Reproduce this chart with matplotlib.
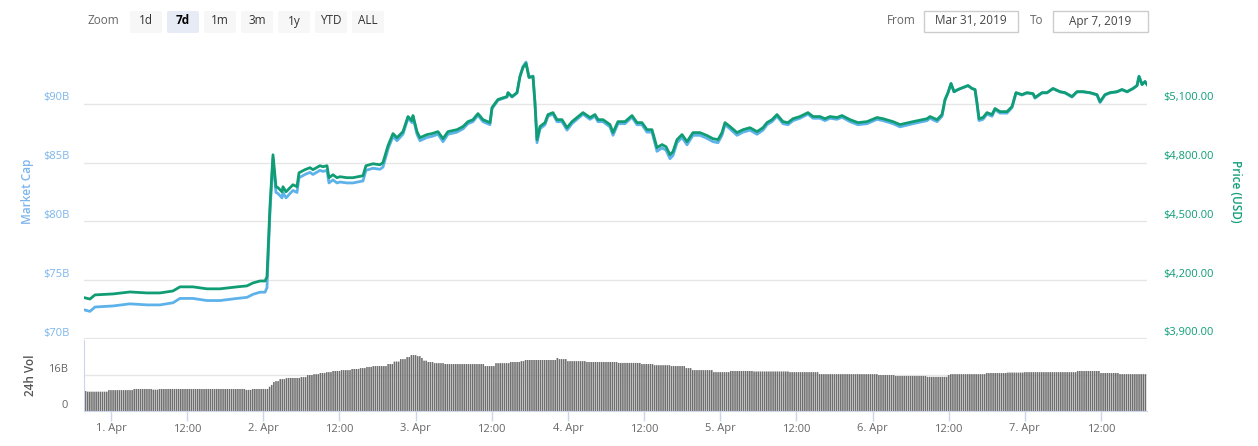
import numpy as np
import matplotlib
matplotlib.use("Agg")
import matplotlib.pyplot as plt
from matplotlib.patches import FancyBboxPatch, Rectangle
from matplotlib.transforms import offset_copy

plt.rcParams["font.family"] = ["Open Sans", "DejaVu Sans"]

# hours since 1 Apr 2019 00:00
hours = [-4.10, -3.31, -2.52, 0.32, 2.99, 5.67, 7.72, 9.77, 10.87, 12.92,
         15.13, 17.18, 19.86, 21.43, 22.38, 23.48, 24.27, 24.58, 25.05, 25.53,
         26.00, 26.32, 26.95, 27.10, 27.58, 28.21, 28.68, 29.31, 29.63, 30.57,
         31.36, 31.83, 32.93, 33.41, 34.04, 34.35, 34.98, 35.61, 36.09, 37.19,
         38.13, 39.71, 40.18, 41.29, 42.39, 42.86, 43.65, 44.44, 45.07, 46.01,
         46.80, 47.43, 47.59, 48.22, 48.69, 49.80, 50.58, 51.53, 52.32, 53.10,
         54.52, 55.47, 56.26, 57.04, 57.83, 58.62, 59.72, 60.04, 60.98, 62.40,
         62.56, 63.19, 63.98, 64.45, 64.92, 65.40, 65.87, 66.50, 66.81, 67.13,
         67.60, 68.39, 68.86, 69.65, 70.28, 71.07, 71.86, 72.64, 73.43, 74.38,
         75.48, 76.27, 76.74, 77.53, 78.63, 79.11, 79.89, 81.00, 82.10, 82.89,
         83.67, 84.46, 85.25, 86.04, 86.83, 87.46, 88.09, 88.56, 89.19, 89.98,
         90.77, 91.71, 92.81, 93.92, 94.86, 95.65, 96.28, 96.75, 97.54, 98.65,
         99.59, 100.69, 101.80, 102.74, 103.37, 104.16, 104.95, 105.89, 106.68, 107.47,
         108.57, 109.83, 110.62, 111.72, 112.51, 113.30, 114.40, 115.19, 116.45, 117.71,
         119.13, 120.71, 121.65, 123.23, 124.33, 126.38, 128.59, 129.06, 130.16, 130.95,
         131.42, 131.89, 132.37, 132.84, 133.47, 134.26, 135.05, 135.68, 136.15, 136.46,
         136.78, 137.41, 138.04, 138.83, 139.30, 140.09, 141.19, 141.98, 142.61, 143.55,
         144.34, 145.29, 145.60, 146.71, 147.49, 148.44, 149.54, 150.33, 151.43, 152.22,
         153.17, 154.27, 155.37, 155.85, 156.63, 157.42, 158.53, 159.31, 160.10, 161.04,
         161.68, 161.99, 162.47, 162.94, 163.26]

price_usd = [4110, 4104, 4125, 4130, 4140, 4135, 4135, 4145, 4166, 4166,
             4156, 4156, 4166, 4171, 4186, 4196, 4196, 4217, 4575, 4840,
             4677, 4672, 4651, 4677, 4651, 4672, 4687, 4677, 4748, 4764,
             4774, 4764, 4784, 4779, 4784, 4723, 4738, 4723, 4728, 4723,
             4723, 4733, 4784, 4794, 4789, 4800, 4886, 4948, 4927, 4958,
             5035, 5014, 5040, 4958, 4927, 4943, 4948, 4958, 4922, 4958,
             4968, 4984, 5009, 5019, 5050, 5019, 5004, 5081, 5122, 5137,
             5157, 5137, 5157, 5239, 5285, 5306, 5234, 5239, 5106, 4917,
             4984, 5004, 5045, 5055, 5019, 5019, 4978, 5009, 5030, 5055,
             5030, 5045, 5019, 5019, 4994, 4953, 5009, 5009, 5040, 5004,
             5004, 4968, 4968, 4876, 4892, 4881, 4840, 4856, 4917, 4943,
             4907, 4953, 4953, 4938, 4922, 4917, 4953, 5004, 4984, 4953,
             4968, 4978, 4958, 4978, 5004, 5019, 5045, 5009, 5004, 5024,
             5035, 5055, 5035, 5035, 5024, 5035, 5030, 5040, 5019, 5004,
             5009, 5030, 5024, 5009, 4994, 5009, 5024, 5035, 5019, 5045,
             5122, 5157, 5203, 5162, 5173, 5183, 5193, 5178, 5173, 5106,
             5024, 5030, 5055, 5045, 5076, 5060, 5060, 5086, 5157, 5147,
             5157, 5152, 5132, 5157, 5157, 5178, 5162, 5157, 5137, 5162,
             5162, 5157, 5147, 5111, 5147, 5157, 5162, 5173, 5162, 5178,
             5193, 5239, 5198, 5213, 5198]

market_cap_b = [72.46, 72.35, 72.72, 72.81, 72.99, 72.90, 72.90, 73.08, 73.45, 73.45,
                73.27, 73.27, 73.45, 73.54, 73.80, 73.98, 73.98, 74.35, 80.66, 85.33,
                82.46, 82.37, 82.00, 82.46, 82.00, 82.37, 82.63, 82.46, 83.71, 83.99,
                84.17, 83.99, 84.34, 84.25, 84.34, 83.27, 83.53, 83.27, 83.35, 83.27,
                83.27, 83.44, 84.34, 84.52, 84.43, 84.62, 86.14, 87.23, 86.86, 87.41,
                88.77, 88.40, 88.86, 87.41, 86.86, 87.14, 87.23, 87.41, 86.78, 87.41,
                87.59, 87.87, 88.31, 88.48, 89.03, 88.48, 88.22, 89.58, 90.30, 90.57,
                90.92, 90.57, 90.92, 92.36, 93.17, 93.55, 92.28, 92.36, 90.02, 86.69,
                87.87, 88.22, 88.94, 89.12, 88.48, 88.48, 87.76, 88.31, 88.68, 89.12,
                88.68, 88.94, 88.48, 88.48, 88.04, 87.32, 88.31, 88.31, 88.86, 88.22,
                88.22, 87.59, 87.59, 85.96, 86.25, 86.05, 85.33, 85.61, 86.69, 87.14,
                86.51, 87.32, 87.32, 87.06, 86.78, 86.69, 87.32, 88.22, 87.87, 87.32,
                87.59, 87.76, 87.41, 87.76, 88.22, 88.48, 88.94, 88.31, 88.22, 88.57,
                88.77, 89.12, 88.77, 88.77, 88.57, 88.77, 88.68, 88.86, 88.48, 88.22,
                88.31, 88.68, 88.57, 88.31, 88.04, 88.31, 88.57, 88.77, 88.48, 88.94,
                90.30, 90.92, 91.73, 91.01, 91.20, 91.38, 91.55, 91.29, 91.20, 90.02,
                88.57, 88.68, 89.12, 88.94, 89.49, 89.21, 89.21, 89.67, 90.92, 90.74,
                90.92, 90.83, 90.48, 90.92, 90.92, 91.29, 91.01, 90.92, 90.57, 91.01,
                91.01, 90.92, 90.74, 90.11, 90.74, 90.92, 91.01, 91.20, 91.01, 91.29,
                91.55, 92.36, 91.64, 91.91, 91.64]

# 24h volume (billions), one level per run of bars starting at the given hour
vol_change_hours = [-4.1, -3.8, -0.5, 3.5, 6.5, 7.6, 21.1, 22.2, 24.7, 25.1,
                    25.4, 26.0, 26.6, 27.6, 29.8, 30.7, 31.8, 32.9, 34.0, 35.0,
                    36.1, 37.7, 39.2, 40.3, 41.3, 43.5, 44.4, 45.5, 46.5, 47.3,
                    48.1, 48.7, 49.3, 50.0, 50.7, 52.6, 58.9, 60.4, 62.7, 64.5,
                    65.1, 70.1, 70.6, 71.7, 75.0, 79.9, 83.4, 85.4, 88.1, 90.5,
                    91.6, 94.9, 97.4, 101.2, 107.0, 111.4, 120.7, 123.4, 128.6, 131.9,
                    132.2, 138.0, 141.2, 143.9, 152.1, 155.8, 158.7]
vol_levels_b = [8.9, 8.6, 9.3, 9.8, 9.5, 9.8, 9.4, 9.8, 10.8, 11.6,
                12.9, 13.3, 14.2, 14.7, 15.1, 16.0, 16.4, 16.9, 17.3, 17.8,
                18.2, 18.7, 19.1, 19.6, 20.0, 20.9, 22.0, 23.1, 24.0, 24.9,
                24.4, 23.6, 22.4, 21.8, 21.3, 20.9, 20.0, 21.3, 21.8, 22.2,
                22.7, 23.6, 23.1, 22.2, 21.8, 21.4, 20.9, 20.4, 20.0, 19.1,
                18.2, 17.3, 17.8, 17.6, 17.3, 16.4, 16.0, 15.6, 15.2, 16.0,
                16.4, 16.9, 17.1, 17.3, 17.8, 16.9, 16.4]

cap_ticks = [70, 75, 80, 85, 90]
price_ticks = [3900, 4200, 4500, 4800, 5100]
x_ticks = [0, 12, 24, 36, 48, 60, 72, 84, 96, 108, 120, 132, 144, 156]
x_labels = ["1. Apr", "12:00", "2. Apr", "12:00", "3. Apr", "12:00", "4. Apr",
            "12:00", "5. Apr", "12:00", "6. Apr", "12:00", "7. Apr", "12:00"]
zoom_buttons = ["1d", "7d", "1m", "3m", "1y", "YTD", "ALL"]
active_button = "7d"
date_from, date_to = "Mar 31, 2019", "Apr 7, 2019"

GREEN = "#109d74"
BLUE = "#5db2ea"
BLUE_TXT = "#7cb5ec"
GREEN_TXT = "#0f9d78"
GRID = "#e6e6e6"
AXIS = "#ccd6eb"

W, H = 1258, 446
fig = plt.figure(figsize=(W / 100, H / 100), dpi=100)


def rect(x0, y0, x1, y1):
    return [x0 / W, 1 - y1 / H, (x1 - x0) / W, (y1 - y0) / H]


# ---- main panel
ax = fig.add_axes(rect(84, 45, 1147, 339))
ax.set_xlim(-4.25, 163.25)
ax.set_ylim(70, 95)
for s in ax.spines.values():
    s.set_visible(False)
ax.set_xticks([])
ax.set_yticks([])
for v in cap_ticks:
    ax.axhline(v, color=GRID, lw=1.6 if v == 70 else 1.0, zorder=0)
ax.plot(hours, market_cap_b, color=BLUE, lw=2.0, zorder=2, solid_joinstyle="round")

ax2 = ax.twinx()
ax2.set_ylim(3900, 5400)
for s in ax2.spines.values():
    s.set_visible(False)
ax2.set_yticks([])
ax2.plot(hours, price_usd, color=GREEN, lw=2.0, zorder=3, solid_joinstyle="round")

tr_left = offset_copy(ax.get_yaxis_transform(), fig=fig, x=-14, y=6, units="dots")
for v in cap_ticks:
    ax.text(0, v, f"${v}B", transform=tr_left, ha="right", va="center",
            fontsize=8, color=BLUE_TXT)
tr_right = offset_copy(ax2.get_yaxis_transform(), fig=fig, x=16, y=6, units="dots")
for p in price_ticks:
    ax2.text(1, p, f"${p:,.2f}", transform=tr_right, ha="left", va="center",
             fontsize=8, color=GREEN_TXT)

# ---- volume panel
axv = fig.add_axes(rect(84, 340, 1147, 411))
axv.set_xlim(-4.25, 163.25)
axv.set_ylim(0, 31.6)
bar_hours = np.arange(-4.0, 163.2, 1 / 3)
idx = np.clip(np.searchsorted(vol_change_hours, bar_hours, side="right") - 1, 0, None)
vol = np.array(vol_levels_b)[idx]
axv.axhline(16, color=GRID, lw=1.0, zorder=0)
bars = axv.bar(bar_hours, vol, width=0.25, color="#6f6f6f", lw=0, zorder=2)
for b in bars:
    b.set_snap(False)
for k in ["top", "right"]:
    axv.spines[k].set_visible(False)
axv.spines["left"].set_color(AXIS)
axv.spines["bottom"].set_color(AXIS)
axv.set_yticks([])
axv.set_xticks(x_ticks)
axv.set_xticklabels(x_labels, fontsize=8, color="#666666")
axv.tick_params(axis="x", length=7, width=1, color=AXIS, pad=2)
tr_vl = offset_copy(axv.get_yaxis_transform(), fig=fig, x=-16, y=6, units="dots")
axv.text(0, 16, "16B", transform=tr_vl, ha="right", va="center", fontsize=8, color="#666666")
axv.text(0, 0, "0", transform=tr_vl, ha="right", va="center", fontsize=8, color="#666666")

# ---- overlay for titles and toolbar
ov = fig.add_axes([0, 0, 1, 1], facecolor="none")
ov.set_xlim(0, W)
ov.set_ylim(H, 0)
ov.axis("off")

ov.text(27, 191, "Market Cap", rotation=90, ha="center", va="center",
        fontsize=8.5, fontweight="semibold", color=BLUE_TXT)
ov.text(1236, 191, "Price (USD)", rotation=270, ha="center", va="center",
        fontsize=8.5, fontweight="semibold", color=GREEN_TXT)
ov.text(31, 375, "24h Vol", rotation=90, ha="center", va="center",
        fontsize=8.5, fontweight="semibold", color="#555555")

ov.text(88, 21, "Zoom", ha="left", va="center", fontsize=8.5, color="#666666")
for i, lab in enumerate(zoom_buttons):
    x0 = 130 + i * 37
    active = lab == active_button
    ov.add_patch(FancyBboxPatch((x0 + 2, 13), 28, 18,
                                boxstyle="round,pad=2,rounding_size=2",
                                fc="#e6ebf5" if active else "#f7f7f7", ec="none"))
    ov.text(x0 + 16, 21, lab, ha="center", va="center", fontsize=8.5,
            color="#000000" if active else "#333333",
            fontweight="bold" if active else "normal")

ov.text(887, 21, "From", ha="left", va="center", fontsize=8.5, color="#666666")
ov.add_patch(Rectangle((924, 11), 94, 21, fc="white", ec="#cccccc", lw=1))
ov.text(971, 21, date_from, ha="center", va="center", fontsize=8.5, color="#444444")
ov.text(1030, 21, "To", ha="left", va="center", fontsize=8.5, color="#666666")
ov.add_patch(Rectangle((1053, 11), 95, 21, fc="white", ec="#cccccc", lw=1))
ov.text(1100, 21, date_to, ha="center", va="center", fontsize=8.5, color="#444444")

fig.savefig("out.png", dpi=100)
